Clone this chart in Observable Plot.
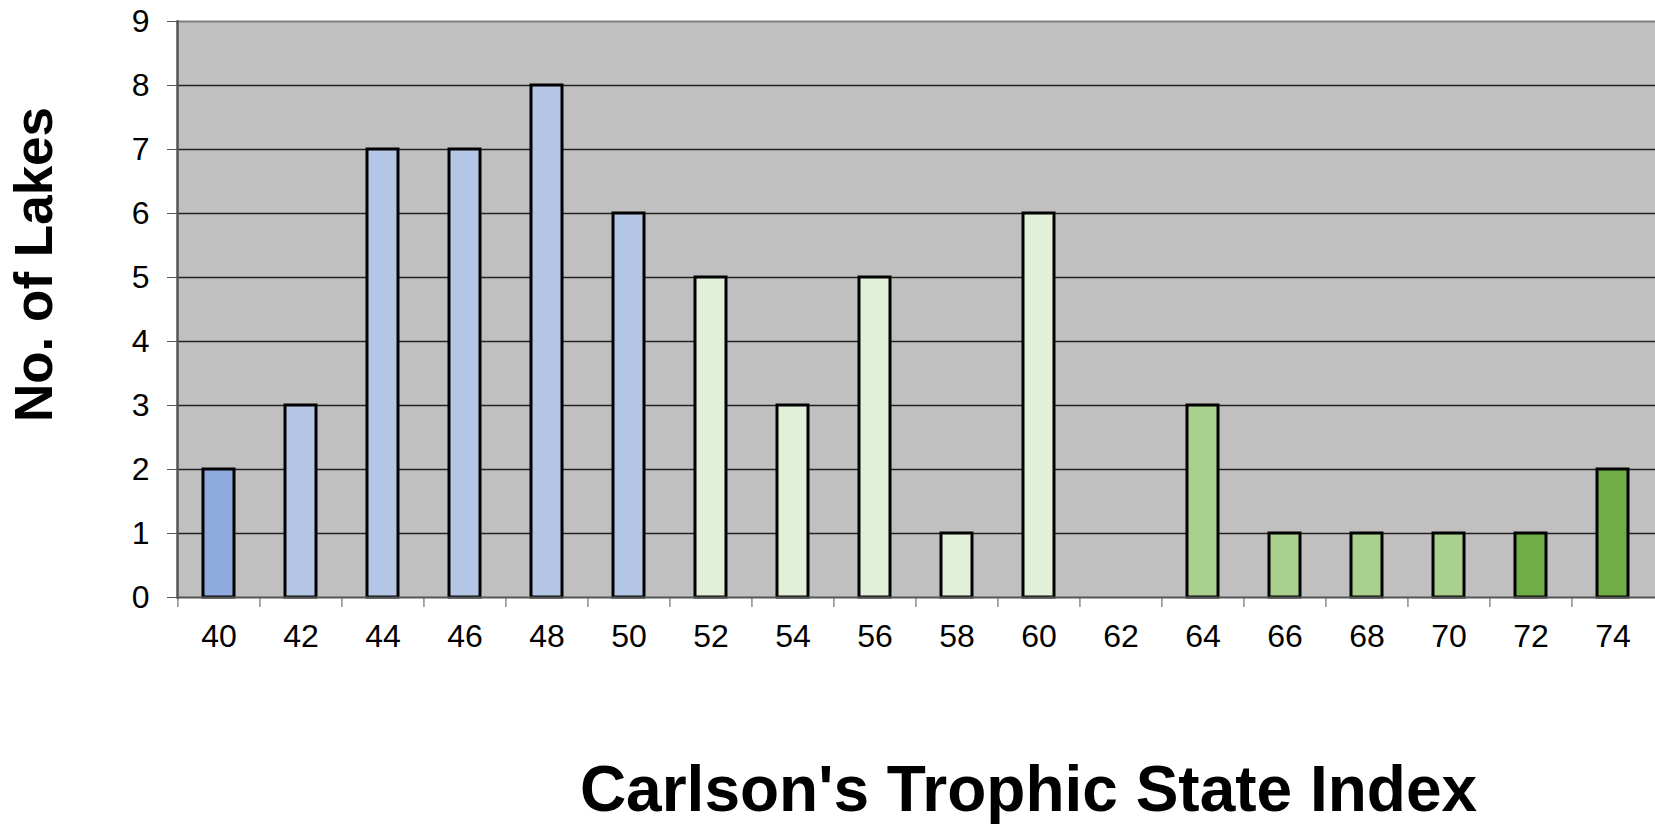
<!DOCTYPE html>
<html><head><meta charset="utf-8">
<script src="https://cdn.jsdelivr.net/npm/d3@7"></script>
<script src="https://cdn.jsdelivr.net/npm/@observablehq/plot@0.6"></script>
<style>html,body{margin:0;padding:0;background:#fff} #chart svg{display:block}</style>
</head><body><div id="chart"></div>
<script>
// Data
const tsi = ["40","42","44","46","48","50","52","54","56","58","60","62","64","66","68","70","72","74"];
const lakes = [2,3,7,7,8,6,5,3,5,1,6,0,3,1,1,1,1,2];
const trophicGroup = ["g1","g2","g2","g2","g2","g2","g3","g3","g3","g3","g3","g3","g4","g4","g4","g4","g5","g5"];
const yTicks = [0,1,2,3,4,5,6,7,8,9];
const xTitle = "Carlson's Trophic State Index";
const yTitle = "No. of Lakes";

const groupDomain = ["g1","g2","g3","g4","g5"];
const groupColors = ["#8faadc","#b4c7e7","#e2f0d9","#a9d18e","#70ad47"];

const data = tsi.map((t, i) => ({tsi: t, lakes: lakes[i], group: trophicGroup[i]}));

const W = 1655, H = 824, mL = 177, mR = 0, mT = 21, mB = 227;
const step = (W - mL - mR) / tsi.length;
const frameCx = mL + (W - mL - mR) / 2;
const frameCy = mT + (H - mT - mB) / 2;

const chart = Plot.plot({
  width: W, height: H,
  marginLeft: mL, marginRight: mR, marginTop: mT, marginBottom: mB,
  style: {fontFamily: "'Liberation Sans', Arial, sans-serif", fontSize: "32px", background: "white", overflow: "visible", color: "black"},
  x: {domain: tsi, paddingInner: 0.62, paddingOuter: 0.31, label: null},
  y: {domain: [0, 9], label: null},
  color: {domain: groupDomain, range: groupColors},
  marks: [
    Plot.frame({fill: "#c0c0c0", stroke: null}),
    Plot.ruleY(yTicks.filter(v => v > 0 && v < 9), {stroke: "#222", strokeWidth: 1.5}),
    Plot.ruleY([9], {stroke: "#808080", strokeWidth: 2}),
    Plot.barY(data.filter(d => d.lakes > 0), {x: "tsi", y: "lakes", fill: "group", stroke: "black", strokeWidth: 3}),
    Plot.ruleY([0], {stroke: "#555", strokeWidth: 2}),
    Plot.frame({anchor: "left", stroke: "#555", strokeWidth: 2.5}),
    Plot.axisY({ticks: yTicks, tickSize: 10, tickPadding: 18, fontSize: 32, stroke: "#555", label: null}),
    Plot.axisX({tickSize: 10, tickFormat: () => "", dx: -step / 2, stroke: "#555", label: null}),
    Plot.axisX({tickSize: 0, tickPadding: 27, fontSize: 32, label: null}),
    Plot.text([yTitle], {text: d => d, frameAnchor: "left", textAnchor: "middle", lineAnchor: "middle",
      rotate: -90, dx: 35 - mL, dy: 264 - frameCy, fontSize: 53, fontWeight: "bold"}),
    Plot.text([xTitle], {text: d => d, frameAnchor: "bottom", textAnchor: "middle", lineAnchor: "middle",
      dx: 1028 - frameCx, dy: 790 - (H - mB), fontSize: 64, fontWeight: "bold"})
  ]
});
document.getElementById("chart").append(chart);
</script>
</body></html>
